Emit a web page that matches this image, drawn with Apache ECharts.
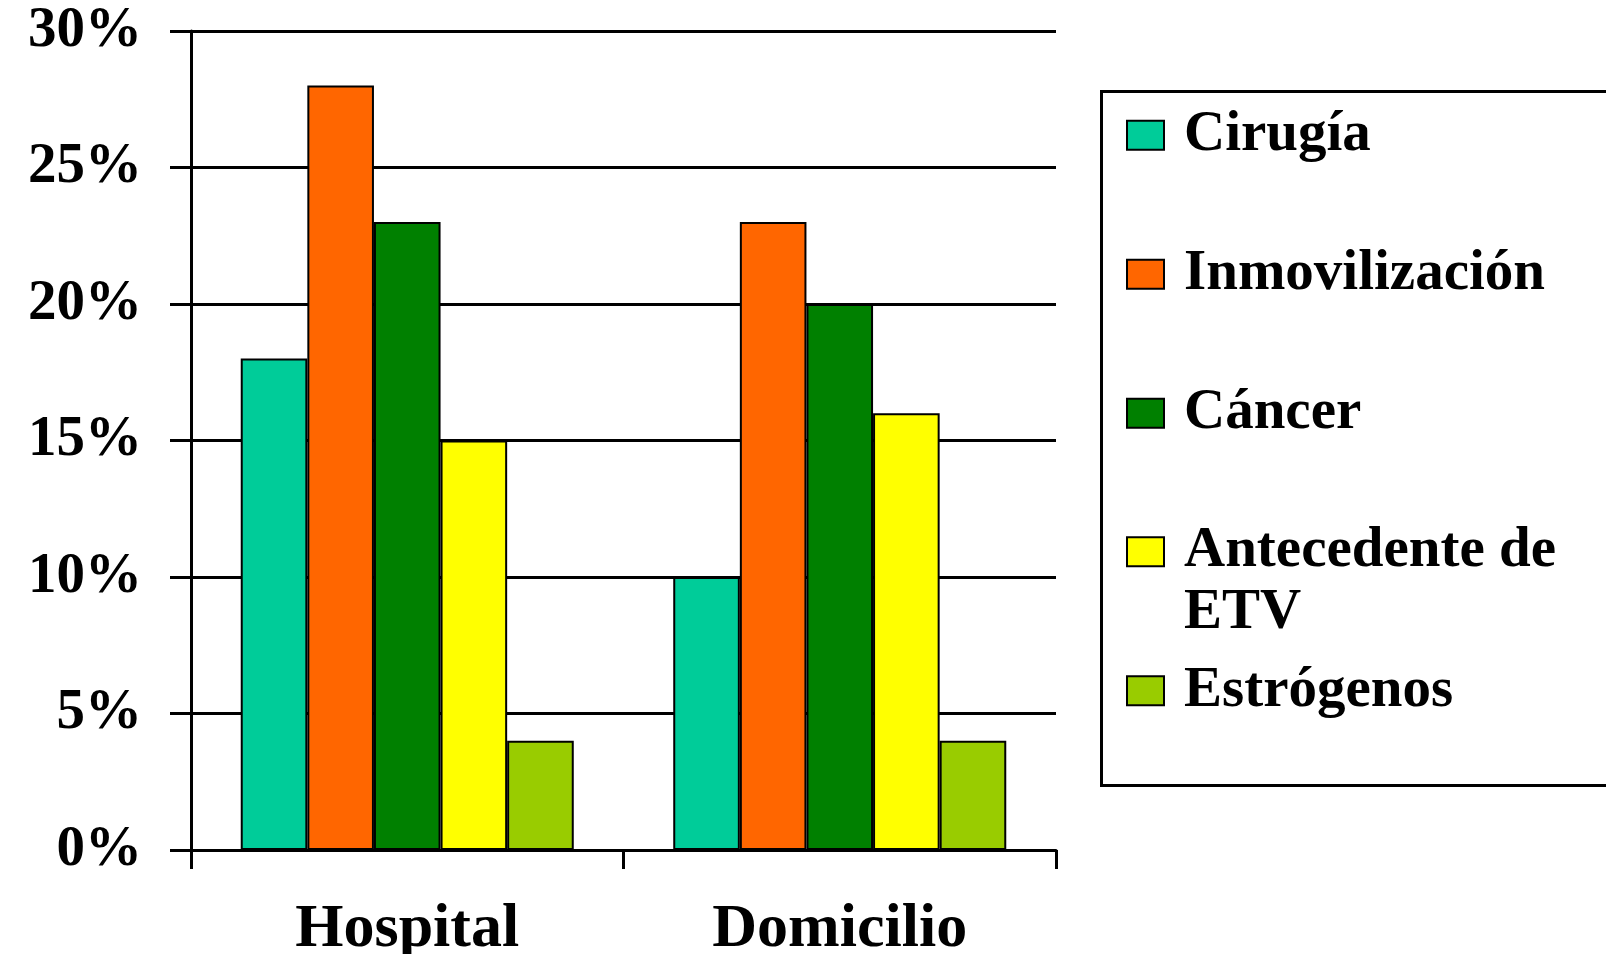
<!DOCTYPE html>
<html>
<head>
<meta charset="utf-8">
<script src="https://cdn.jsdelivr.net/npm/echarts@6/dist/echarts.min.js"></script>
<style>
html,body{margin:0;padding:0;background:#fff;}
#chart{width:1606px;height:954px;}
</style>
</head>
<body>
<div id="chart"></div>
<script>
const categories = ['Hospital', 'Domicilio'];
const seriesNames = ['Cirugía', 'Inmovilización', 'Cáncer', 'Antecedente de ETV', 'Estrógenos'];
const cirugia = [18, 10];
const inmovilizacion = [28, 23];
const cancer = [23, 20];
const antecedenteETV = [15, 16];
const estrogenos = [4, 4];
const seriesColors = ['#00CC99', '#FF6600', '#008000', '#FFFF00', '#99CC00'];
const yTickValues = [0, 5, 10, 15, 20, 25, 30];

const seriesData = [cirugia, inmovilizacion, cancer, antecedenteETV, estrogenos];
const FONT = "'Liberation Serif', 'Times New Roman', serif";

const chart = echarts.init(document.getElementById('chart'));

const legendCenters = [135.3, 274.3, 413.3, 551.7, 690.8];
const legends = seriesNames.map((name, i) => {
  const multi = name === 'Antecedente de ETV';
  return {
    data: [name],
    orient: 'vertical',
    left: 1126,
    top: multi ? legendCenters[i] - 93 : legendCenters[i] - 30,
    padding: 0,
    itemWidth: 37,
    itemHeight: 29,
    icon: 'rect',
    selectedMode: false,
    formatter: n => (n === 'Antecedente de ETV' ? '\nAntecedente de\nETV' : n),
    itemStyle: { borderColor: '#000', borderWidth: 2 },
    textStyle: {
      fontFamily: FONT,
      fontWeight: 'bold',
      fontSize: 57,
      color: '#000',
      lineHeight: multi ? 62 : 60,
      padding: [0, 0, 0, 15]
    }
  };
});

const option = {
  backgroundColor: '#fff',
  animation: false,
  grid: { left: 191, right: 550, top: 31, bottom: 104, containLabel: false, outerBoundsMode: 'none' },
  legend: legends,
  xAxis: {
    type: 'category',
    data: categories,
    axisLine: { lineStyle: { color: '#000', width: 3 } },
    axisTick: { show: true, length: 19, lineStyle: { color: '#000', width: 3 } },
    axisLabel: { margin: 49, color: '#000', fontFamily: FONT, fontWeight: 'bold', fontSize: 62 },
    splitLine: { show: false }
  },
  yAxis: {
    type: 'value',
    min: yTickValues[0],
    max: yTickValues[yTickValues.length - 1],
    interval: 5,
    axisLine: { show: true, lineStyle: { color: '#000', width: 3 } },
    axisTick: { show: true, length: 21, lineStyle: { color: '#000', width: 3 } },
    axisLabel: { margin: 49, color: '#000', fontFamily: FONT, fontWeight: 'bold', fontSize: 57, formatter: '{value}%' },
    splitLine: { show: true, lineStyle: { color: '#000', width: 3 } }
  },
  series: seriesNames.map((name, i) => ({
    name: name,
    type: 'bar',
    data: seriesData[i],
    barGap: 0,
    barCategoryGap: '23%',
    itemStyle: { color: seriesColors[i], borderColor: '#000', borderWidth: 2 }
  })),
  graphic: [{
    type: 'rect',
    shape: { x: 1101.5, y: 91.5, width: 700, height: 694 },
    style: { fill: 'none', stroke: '#000', lineWidth: 3 },
    z: 0
  }]
};
chart.setOption(option);
</script>
</body>
</html>
